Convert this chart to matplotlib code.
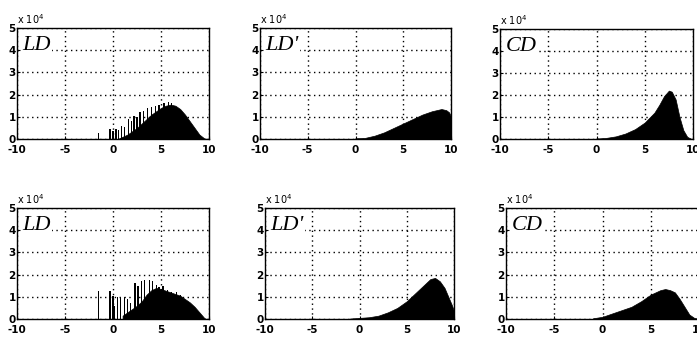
import matplotlib.pyplot as plt

plt.rcParams['axes.unicode_minus'] = False  # eksi yerine tire, referanstaki gibi

# dagilimlar (y degerleri x10^4 biriminde)
labels = ["LD", "LD'", "CD", "LD", "LD'", "CD"]

ld1_x = [0.5, 1, 1.5, 2, 2.5, 3, 3.5, 4, 4.5, 5, 5.5, 6, 6.5, 7, 7.5, 8, 8.5, 9, 9.5, 9.8]
ld1_y = [0, 0.1, 0.2, 0.35, 0.5, 0.7, 0.9, 1.1, 1.25, 1.4, 1.5, 1.55, 1.5, 1.35, 1.1, 0.8, 0.5, 0.2, 0.03, 0]
ld1_sx = [-1.5, -0.3, 0, 0.3, 0.6, 0.9, 1.2, 1.6, 1.9, 2.2, 2.5, 2.8, 3.2, 3.6, 4, 4.4, 4.8, 5.3, 5.8, 6.1]
ld1_sy = [0.25, 0.45, 0.35, 0.45, 0.4, 0.6, 0.55, 0.9, 0.8, 1.05, 1.0, 1.2, 1.25, 1.4, 1.45, 1.5, 1.55, 1.6, 1.65, 1.6]

ldp1_x = [0, 1, 2, 3, 4, 5, 6, 7, 8, 9, 9.5, 9.8, 10]
ldp1_y = [0.03, 0.05, 0.15, 0.3, 0.5, 0.7, 0.9, 1.1, 1.25, 1.35, 1.3, 1.2, 1.0]

cd1_x = [0, 1, 2, 3, 4, 5, 6, 6.5, 7, 7.5, 7.8, 8.2, 8.6, 9, 9.4, 9.8]
cd1_y = [0.02, 0.05, 0.12, 0.25, 0.45, 0.75, 1.2, 1.55, 1.95, 2.2, 2.15, 1.8, 1.0, 0.4, 0.1, 0.01]

ld2_x = [1, 1.5, 2, 2.5, 3, 3.5, 4, 4.5, 5, 6, 7, 8, 8.5, 9, 9.5, 9.7]
ld2_y = [0.15, 0.3, 0.45, 0.6, 0.8, 1.1, 1.3, 1.4, 1.35, 1.2, 1.05, 0.75, 0.55, 0.3, 0.05, 0]
ld2_sx = [-1.5, -0.3, 0, 0.15, 0.5, 0.8, 1.2, 1.5, 1.8, 2.3, 2.6, 3.0, 3.3, 3.8, 4.1, 4.5, 4.8, 5.2, 5.7, 6.1, 6.6, 7.0]
ld2_sy = [1.25, 1.25, 1.05, 0.6, 1.0, 0.95, 1.0, 0.9, 0.7, 1.6, 1.5, 1.7, 1.75, 1.75, 1.7, 1.55, 1.45, 1.5, 1.3, 1.2, 1.2, 1.1]

ldp2_x = [-1, 0, 1, 2, 3, 4, 5, 6, 7, 7.5, 8, 8.5, 9, 9.5, 9.8, 10]
ldp2_y = [0.02, 0.05, 0.08, 0.15, 0.3, 0.5, 0.8, 1.2, 1.6, 1.8, 1.85, 1.7, 1.4, 0.9, 0.6, 0.35]

cd2_x = [-1, 0, 1, 2, 3, 4, 5, 6, 6.5, 7, 7.5, 8, 8.5, 9, 9.5, 10]
cd2_y = [0.03, 0.1, 0.25, 0.4, 0.55, 0.8, 1.1, 1.3, 1.35, 1.3, 1.2, 0.9, 0.55, 0.2, 0.05, 0]

curves = [(ld1_x, ld1_y), (ldp1_x, ldp1_y), (cd1_x, cd1_y),
          (ld2_x, ld2_y), (ldp2_x, ldp2_y), (cd2_x, cd2_y)]
spikes = {0: (ld1_sx, ld1_sy), 3: (ld2_sx, ld2_sy)}

W, H = 697, 341
# eksen kutulari piksel olarak (sol, ust, sag, alt)
boxes = [(17, 28, 209, 139), (260, 28, 451, 139), (500, 29, 693, 139),
         (17, 208, 209, 319), (265, 208, 454, 319), (506, 208, 699, 319)]

fig = plt.figure(figsize=(W / 100, H / 100), dpi=100)
for i, (l, t, r, b) in enumerate(boxes):
    ax = fig.add_axes([l / W, 1 - b / H, (r - l) / W, (b - t) / H])
    x, y = curves[i]
    ax.fill_between(x, y, 0, color="black", lw=0.5, zorder=3)
    if i in spikes:
        sx, sy = spikes[i]
        ax.bar(sx, sy, width=0.13, color="black", zorder=3)
    ax.set_xlim(-10, 10)
    ax.set_ylim(0, 5)
    ax.set_xticks([-10, -5, 0, 5, 10])
    ax.set_yticks([0, 1, 2, 3, 4, 5])
    ax.grid(True, linestyle=(0, (1, 2.5)), color="black", linewidth=1.0)
    ax.tick_params(direction="in", length=2, labelsize=7.5)
    ax.tick_params(axis="x", pad=4)
    ax.tick_params(axis="y", pad=1)
    for lab in ax.get_xticklabels() + ax.get_yticklabels():
        lab.set_fontweight("bold")
    for s in ax.spines.values():
        s.set_linewidth(1.0)
    ax.text(0.03, 0.93, labels[i], transform=ax.transAxes, fontsize=16,
            fontstyle="italic", family="Liberation Serif", va="top", ha="left",
            bbox=dict(facecolor="white", edgecolor="none", pad=0.5), zorder=5)
    ax.text(0.0, 1.02, r"x 10$^{4}$", transform=ax.transAxes, fontsize=7,
            va="bottom", ha="left")

plt.savefig("out.png")
